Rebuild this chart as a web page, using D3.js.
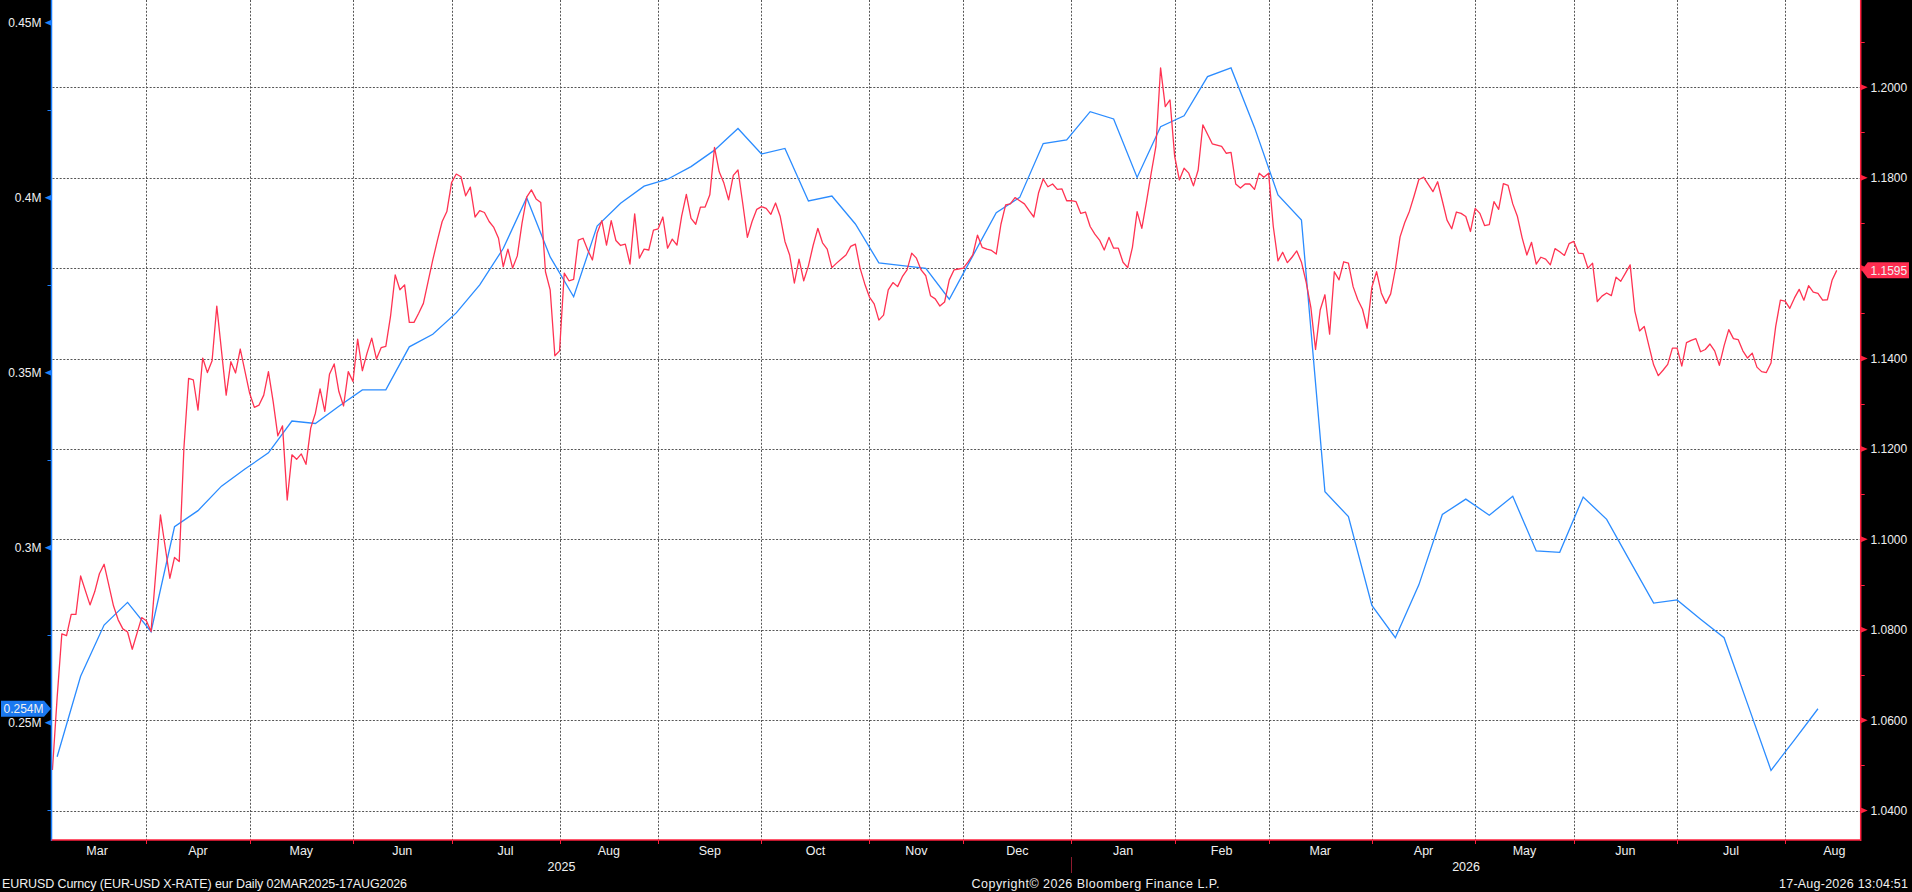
<!DOCTYPE html>
<html><head><meta charset="utf-8">
<script src="https://cdn.jsdelivr.net/npm/d3@7"></script>
<style>
html,body{margin:0;padding:0;background:#000;overflow:hidden}
svg{display:block}
text{font-family:"Liberation Sans",Arial,sans-serif;fill:#f0f0f0}
</style></head><body>
<svg id="c" width="1912" height="892"></svg>
<script>
// ---------------- DATA ----------------
const START = "2025-03-03";          // trading day 0
const END = "2026-08-17";            // last trading day shown
const titleText = "EURUSD Curncy (EUR-USD X-RATE) eur Daily 02MAR2025-17AUG2026";
const copyrightText = "Copyright\u00A9 2026 Bloomberg Finance L.P.";
const stampText = "17-Aug-2026 13:04:51";

const leftTicks  = [0.25, 0.30, 0.35, 0.40, 0.45];
const leftLabels = ["0.25M", "0.3M", "0.35M", "0.4M", "0.45M"];
const leftMinor  = [0.225, 0.275, 0.325, 0.375, 0.425];
const rightTicks  = [1.04, 1.06, 1.08, 1.10, 1.12, 1.14, 1.16, 1.18, 1.20];
const rightLabels = ["1.0400","1.0600","1.0800","1.1000","1.1200","1.1400","1.1600","1.1800","1.2000"];
const rightMinor  = [1.05, 1.07, 1.09, 1.11, 1.13, 1.15, 1.17, 1.19, 1.21];

// EURUSD daily close, one entry per weekday from START (null = not read)
const eurusd = [
1.0490,1.0650,1.0791,1.0787,1.0834,1.0834,1.0919,null,1.0855,1.0884,
1.0924,1.0945,null,1.0853,1.0822,1.0802,1.0795,1.0757,null,1.0827,
1.0820,1.0796,null,1.1054,null,1.0914,1.0960,1.0951,1.1202,1.1356,
1.1353,1.1286,1.1401,1.1369,1.1395,1.1516,null,1.1319,1.1393,1.1368,
1.1421,null,1.1323,1.1292,1.1297,1.1319,1.1371,1.1305,1.1229,1.1251,
1.1087,1.1187,1.1177,1.1189,1.1166,1.1246,1.1279,1.1333,1.1283,1.1365,
1.1388,1.1327,1.1295,1.1371,1.1349,1.1443,1.1373,1.1412,1.1445,1.1399,
1.1424,1.1427,1.1493,1.1585,1.1552,1.1563,1.1480,1.1480,1.1500,1.1522,
1.1570,1.1618,1.1662,1.1703,1.1725,1.1789,1.1808,1.1802,1.1760,1.1779,
1.1713,1.1727,1.1723,1.1703,1.1690,1.1666,1.1603,1.1642,1.1600,1.1627,
1.1699,1.1757,1.1773,1.1753,1.1745,1.1592,1.1552,1.1406,1.1417,1.1589,
1.1572,1.1575,1.1662,1.1666,1.1640,1.1618,1.1677,1.1705,1.1651,1.1705,
1.1661,1.1650,1.1653,1.1609,1.1720,1.1622,1.1642,1.1640,1.1684,1.1687,
1.1713,1.1644,1.1664,1.1651,1.1715,1.1763,1.1710,1.1697,1.1735,1.1735,
1.1762,1.1867,1.1813,1.1788,1.1751,1.1805,1.1817,1.1744,1.1668,1.1703,
1.1730,1.1736,1.1732,1.1719,1.1744,1.1714,1.1659,1.1629,1.1567,1.1620,
1.1572,1.1605,1.1650,1.1688,1.1656,1.1642,1.1601,1.1611,1.1620,1.1629,
1.1648,1.1653,1.1600,1.1565,1.1536,1.1521,1.1485,1.1496,1.1552,1.1568,
1.1559,1.1581,1.1596,1.1633,1.1622,1.1596,1.1583,1.1539,1.1532,1.1516,
1.1525,1.1574,1.1596,1.1598,1.1600,1.1614,1.1629,1.1673,1.1646,1.1642,
1.1639,1.1631,1.1697,1.1740,1.1742,1.1756,1.1749,1.1742,1.1727,1.1713,
1.1766,1.1797,1.1780,1.1786,1.1774,1.1775,1.1749,1.1749,1.1747,1.1721,
1.1724,1.1692,1.1675,1.1662,1.1640,1.1668,1.1644,1.1644,1.1613,1.1601,
1.1646,1.1725,1.1688,1.1747,1.1810,1.1869,1.2043,1.1957,1.1972,1.1847,
1.1795,1.1821,1.1810,1.1782,1.1817,1.1917,1.1896,1.1875,1.1872,1.1869,
1.1854,1.1856,1.1786,1.1777,1.1786,1.1786,1.1774,1.1810,1.1801,1.1810,
1.1692,1.1616,1.1635,1.1612,1.1624,1.1638,1.1613,1.1569,1.1513,1.1420,
1.1508,1.1541,1.1454,1.1592,1.1574,1.1614,1.1611,1.1559,1.1530,1.1509,
1.1467,1.1558,1.1592,1.1545,1.1522,1.1543,1.1598,1.1669,1.1701,1.1726,
1.1760,1.1796,1.1801,1.1785,1.1769,1.1791,1.1749,1.1706,1.1687,1.1724,
1.1721,1.1714,1.1681,1.1732,1.1721,1.1694,1.1696,1.1747,1.1730,1.1787,
1.1783,1.1742,1.1714,1.1667,1.1629,1.1657,1.1609,1.1624,1.1620,1.1607,
1.1643,1.1636,1.1628,1.1654,1.1659,1.1633,1.1632,1.1600,1.1611,1.1526,
1.1538,1.1545,1.1539,1.1580,1.1571,1.1589,1.1607,1.1505,1.1461,1.1471,
1.1428,1.1386,1.1362,1.1374,1.1387,1.1423,1.1423,1.1383,1.1435,1.1440,
1.1444,1.1415,1.1420,1.1432,1.1417,1.1385,1.1428,1.1464,1.1444,1.1442,
1.1417,1.1401,1.1412,1.1381,1.1371,1.1369,1.1390,1.1471,1.1529,1.1527,
1.1511,1.1534,1.1553,1.1529,1.1561,1.1547,1.1544,1.1529,1.1530,1.1573,
1.1595
];

// weekly position series (left axis, millions) - trading day of each report
const posDay = [1,6,11,16,21,26,31,36,41,46,51,56,61,66,71,76,81,86,91,96,
101,106,111,116,121,126,131,136,141,146,151,156,161,166,171,176,181,186,191,196,
201,206,211,216,221,226,231,236,241,246,251,256,261,266,271,276,281,286,291,296,
301,306,311,316,321,326,331,336,341,346,351,356,361,366,371,376];
const posValue = [0.2403,0.2633,0.2779,0.2844,0.2760,0.3060,0.3106,0.3176,0.3225,0.3271,
0.3362,0.3355,0.3404,0.3451,0.3451,0.3574,0.3610,0.3671,0.3751,0.3855,
0.4000,0.3831,0.3717,0.3919,0.3984,0.4033,0.4053,0.4089,0.4136,0.4198,
0.4125,0.4141,0.3991,0.4005,0.3925,0.3814,0.3806,0.3798,0.3710,0.3834,
0.3957,0.4001,0.4155,0.4165,0.4246,0.4225,0.4058,0.4203,0.4234,0.4346,
0.4371,0.4201,0.4008,0.3936,0.3160,0.3089,0.2835,0.2743,0.2894,0.3095,
0.3139,0.3093,0.3147,0.2991,0.2987,0.3145,0.3081,0.2961,0.2842,0.2851,
0.2796,0.2743,0.2554,0.2364,0.2451,0.2540];
const lastPosLabel = "0.254M";
const lastFxLabel = "1.1595";

// ---------------- CHART ----------------
const W = 1912, H = 892;
const P = {l: 51.5, r: 1860.7, t: 0, b: 840};
const RED = "#ff3352", BLUE = "#2b8cff", RED_AX = "#ff1f3d", BLUE_AX = "#1a7fff";

const parse = d3.utcParse("%Y-%m-%d");
const t0 = parse(START), t1 = parse(END);
const isWd = d => d.getUTCDay() !== 0 && d.getUTCDay() !== 6;
const tday = d => d3.utcDays(t0, d).filter(isWd).length;
const lastDay = tday(t1);

const x = d3.scaleLinear().domain([-0.2, lastDay + 5.1]).range([P.l, P.r]);
const yL = d3.scaleLinear().domain([0.2165, 0.4565]).range([P.b, P.t]);
const yR = d3.scaleLinear().domain([1.0335, 1.2193]).range([P.b, P.t]);

const svg = d3.select("#c");
svg.append("rect").attr("width", W).attr("height", H).attr("fill", "#000");
svg.append("rect").attr("x", P.l).attr("y", P.t).attr("width", P.r - P.l).attr("height", P.b - P.t).attr("fill", "#fff");
svg.append("clipPath").attr("id", "clip").append("rect")
  .attr("x", P.l).attr("y", P.t).attr("width", P.r - P.l).attr("height", P.b - P.t);

// months
const months = d3.utcMonths(d3.utcMonth.floor(t0), d3.utcMonth.ceil(t1)).map(m => {
  const days = d3.utcDays(m, d3.utcMonth.offset(m, 1)).filter(isWd);
  return {m, first: tday(days[0]), last: tday(days[days.length - 1])};
});
const [d0, d1] = x.domain();

const grid = svg.append("g").attr("stroke", "#555").attr("stroke-width", 1).attr("stroke-dasharray", "2,1.6").attr("fill", "none");
rightTicks.forEach(v => {
  const yy = Math.round(yR(v)) + 0.5;
  grid.append("line").attr("x1", P.l + 1).attr("x2", P.r).attr("y1", yy).attr("y2", yy);
});
months.forEach(o => {
  const b = o.first - 1;
  if (b > d0) {
    const xx = Math.round(x(b)) + 0.5;
    grid.append("line").attr("x1", xx).attr("x2", xx).attr("y1", P.t).attr("y2", P.b);
  }
});

// series
const fxPts = eurusd.map((v, i) => ({d: i, v})).filter(p => p.v !== null);
const posPts = posDay.map((d, i) => ({d, v: posValue[i]}));
const gl = svg.append("g").attr("clip-path", "url(#clip)");
gl.append("path").datum(posPts).attr("fill", "none").attr("stroke", BLUE).attr("stroke-width", 1.3)
  .attr("d", d3.line().x(p => x(p.d)).y(p => yL(p.v)));
gl.append("path").datum(fxPts).attr("fill", "none").attr("stroke", RED).attr("stroke-width", 1.3)
  .attr("stroke-linejoin", "round")
  .attr("d", d3.line().x(p => x(p.d)).y(p => yR(p.v)));

// axes lines
svg.append("line").attr("x1", P.l).attr("x2", P.l).attr("y1", 0).attr("y2", P.b + 1).attr("stroke", BLUE_AX).attr("stroke-width", 1.5);
svg.append("line").attr("x1", P.r).attr("x2", P.r).attr("y1", 0).attr("y2", P.b + 1).attr("stroke", RED_AX).attr("stroke-width", 1.5);
svg.append("line").attr("x1", P.l).attr("x2", P.r).attr("y1", P.b).attr("y2", P.b).attr("stroke", RED_AX).attr("stroke-width", 1.5);

// left axis
leftTicks.forEach((v, i) => {
  const yy = yL(v);
  svg.append("path").attr("d", `M${P.l},${yy - 3}L${P.l - 7},${yy}L${P.l},${yy + 3}Z`).attr("fill", BLUE_AX);
  svg.append("text").attr("x", 41.5).attr("y", yy + 4.5).attr("text-anchor", "end").attr("font-size", 12).text(leftLabels[i]);
});
leftMinor.forEach(v => {
  const yy = Math.round(yL(v)) + 0.5;
  svg.append("line").attr("x1", P.l - 4).attr("x2", P.l).attr("y1", yy).attr("y2", yy).attr("stroke", BLUE_AX);
});
// right axis
rightTicks.forEach((v, i) => {
  const yy = yR(v);
  svg.append("path").attr("d", `M${P.r},${yy - 3}L${P.r + 7},${yy}L${P.r},${yy + 3}Z`).attr("fill", RED_AX);
  svg.append("text").attr("x", 1870.5).attr("y", yy + 4.5).attr("font-size", 12).text(rightLabels[i]);
});
rightMinor.forEach(v => {
  const yy = Math.round(yR(v)) + 0.5;
  if (yy > 0) svg.append("line").attr("x1", P.r).attr("x2", P.r + 4).attr("y1", yy).attr("y2", yy).attr("stroke", RED_AX);
});

// x axis months & years
const fmtM = d3.utcFormat("%b"), fmtY = d3.utcFormat("%Y");
months.forEach(o => {
  const b = o.first - 1;
  if (b > d0) {
    const xx = Math.round(x(b)) + 0.5;
    svg.append("line").attr("x1", xx).attr("x2", xx).attr("y1", P.b).attr("y2", P.b + 4).attr("stroke", RED_AX);
  }
  svg.append("text").attr("x", x((b + o.last) / 2)).attr("y", 855).attr("text-anchor", "middle")
    .attr("font-size", 12.5).text(fmtM(o.m));
});
const years = d3.groups(months, o => fmtY(o.m));
years.forEach(([yr, ms], k) => {
  const a = Math.max(ms[0].first - 1, d0), e = Math.min(ms[ms.length - 1].last, d1);
  svg.append("text").attr("x", x((a + e) / 2)).attr("y", 871).attr("text-anchor", "middle")
    .attr("font-size", 12.5).text(yr);
  if (k > 0) {
    const xx = Math.round(x(ms[0].first - 1)) + 0.5;
    svg.append("line").attr("x1", xx).attr("x2", xx).attr("y1", 857).attr("y2", 873).attr("stroke", "#8e1b2e");
  }
});

// last value badges
const yb = yL(posValue[posValue.length - 1]);
svg.append("path").attr("d", `M1,${yb - 8}H44L51,${yb}L44,${yb + 8}H1Z`).attr("fill", "#1a78f0");
svg.append("text").attr("x", 3.5).attr("y", yb + 4.5).attr("font-size", 12).attr("fill", "#fff").text(lastPosLabel);
const yr2 = yR(eurusd[eurusd.length - 1]);
svg.append("path").attr("d", `M${P.r + 1},${yr2}L${P.r + 7},${yr2 - 8}H1909V${yr2 + 8}H${P.r + 7}Z`).attr("fill", "#ff2d50");
svg.append("text").attr("x", 1870.5).attr("y", yr2 + 4.5).attr("font-size", 12).attr("fill", "#fff").text(lastFxLabel);

// footer
svg.append("text").attr("x", 2).attr("y", 887.5).attr("font-size", 12.5)
  .attr("textLength", 405).attr("lengthAdjust", "spacing").text(titleText);
svg.append("text").attr("x", 971.5).attr("y", 887.5).attr("font-size", 12.5)
  .attr("textLength", 248).attr("lengthAdjust", "spacing").text(copyrightText);
svg.append("text").attr("x", 1779).attr("y", 887.5).attr("font-size", 12.5)
  .attr("textLength", 129).attr("lengthAdjust", "spacing").text(stampText);
</script>
</body></html>
